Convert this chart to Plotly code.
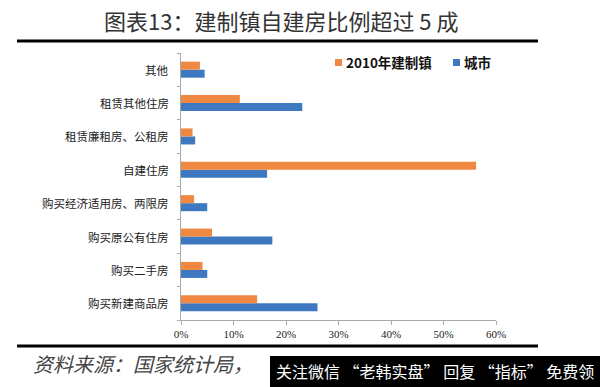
import plotly.graph_objects as go

categories = ["购买新建商品房", "购买二手房", "购买原公有住房", "购买经济适用房、两限房",
              "自建住房", "租赁廉租房、公租房", "租赁其他住房", "其他"]
town_2010 = [14.5, 4.1, 5.9, 2.5, 56.2, 2.2, 11.2, 3.6]
city = [26.0, 5.0, 17.4, 5.0, 16.4, 2.7, 23.1, 4.5]
series_names = ["2010年建制镇", "城市"]
series_colors = ["#EF8840", "#3D78C0"]
x_ticks = [0, 10, 20, 30, 40, 50, 60]
x_tick_labels = ["0%", "10%", "20%", "30%", "40%", "50%", "60%"]

CJK = "Noto Sans CJK SC"

fig = go.Figure()
fig.add_trace(go.Bar(
    y=categories, x=city, orientation="h", name=series_names[1],
    marker=dict(color=series_colors[1], line=dict(width=0)),
))
fig.add_trace(go.Bar(
    y=categories, x=town_2010, orientation="h", name=series_names[0],
    marker=dict(color=series_colors[0], line=dict(width=0)),
))

pw, ph = 600 - 181 - 104, 387 - 53 - 67
def px(x):
    return (x - 181) / pw
def py(y):
    return 1 - (y - 53) / ph

fig.update_layout(
    width=600, height=387,
    paper_bgcolor="white", plot_bgcolor="white",
    margin=dict(l=181, r=104, t=53, b=67),
    barmode="group", bargap=0.52, bargroupgap=0.0,
    showlegend=False,
    font=dict(family=CJK, color="#222"),
    xaxis=dict(range=[0, 60], tickvals=x_ticks, ticktext=x_tick_labels,
               showgrid=False, zeroline=False, showline=True, linecolor="#aaaaaa", linewidth=1,
               ticks="outside", ticklen=4, tickcolor="#aaaaaa",
               tickfont=dict(family="Liberation Serif", size=11, color="#222")),
    yaxis=dict(showgrid=False, zeroline=False, showline=True, linecolor="#aaaaaa", linewidth=1,
               ticks="outside", ticklen=3, tickcolor="#aaaaaa",
               tickvals=[i - 0.5 for i in range(9)], ticktext=[""] * 9,
               range=[-0.5, 7.5]),
)

for i, c in enumerate(categories):
    fig.add_annotation(x=0, xref="paper", xanchor="right", xshift=-10, y=i, yref="y",
                       text=c, showarrow=False, font=dict(family=CJK, size=11.5, color="#222"))

# legend drawn by hand: small squares + bold labels
legend_sq = [335, 453]
legend_tx = [344, 462]
for name, col, sx, tx in zip(series_names, series_colors, legend_sq, legend_tx):
    fig.add_shape(type="rect", xref="paper", yref="paper", x0=px(sx), x1=px(sx + 7),
                  y0=py(59), y1=py(66), line=dict(width=0), fillcolor=col)
    fig.add_annotation(x=px(tx), y=py(62.5), xref="paper", yref="paper", xanchor="left", yanchor="middle",
                       text="<b>" + name + "</b>", showarrow=False,
                       font=dict(family=CJK, size=13.5, color="#111"))

fig.add_annotation(x=px(281), y=py(20), xref="paper", yref="paper", xanchor="center", yanchor="middle",
                   text="图表13：建制镇自建房比例超过 5 成", showarrow=False,
                   font=dict(family=CJK, size=22, color="#333"))
fig.add_annotation(x=px(31), y=py(363), xref="paper", yref="paper", xanchor="left", yanchor="middle",
                   text="<i>资料来源：国家统计局，</i>", showarrow=False,
                   font=dict(family=CJK, size=20, color="#444"))

fig.add_shape(type="line", xref="paper", yref="paper", x0=px(17), x1=px(538), y0=py(41), y1=py(41),
              line=dict(color="black", width=3))
fig.add_shape(type="line", xref="paper", yref="paper", x0=px(17), x1=px(538), y0=py(346), y1=py(346),
              line=dict(color="black", width=3))
fig.add_shape(type="rect", xref="paper", yref="paper", x0=px(270), x1=px(600), y0=py(356), y1=py(387),
              line=dict(width=0), fillcolor="black")
fig.add_annotation(x=px(274), y=py(371), xref="paper", yref="paper", xanchor="left", yanchor="middle",
                   text="关注微信 “老韩实盘” 回复 “指标” 免费领", showarrow=False,
                   font=dict(family=CJK, size=16, color="white"))

fig.write_html("out.html", config={"displayModeBar": False},
               post_script="document.body.style.margin='0';document.body.style.overflow='hidden';")
